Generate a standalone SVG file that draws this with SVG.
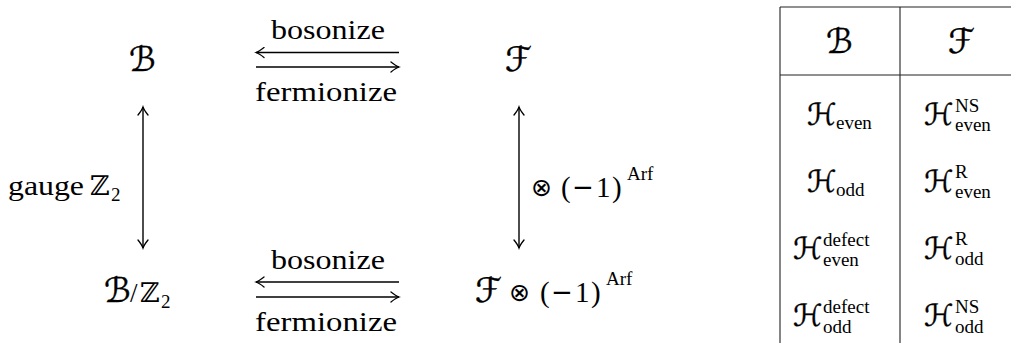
<svg xmlns="http://www.w3.org/2000/svg" width="1011" height="343" viewBox="0 0 1011 343">
<style>
.lbl{font-family:"Liberation Serif",serif;font-size:27px;fill:#000}
.pn{font-family:"Liberation Serif",serif;font-size:29px;fill:#000}
.mi{font-family:"DejaVu Sans",sans-serif;font-size:26px;fill:#000}
.sm{font-family:"Liberation Serif",serif;font-size:19px;fill:#000}
.cal{font-family:"DejaVu Sans",sans-serif;font-size:34px;fill:#000;stroke:#000;stroke-width:0.4}
.ch{font-family:"DejaVu Sans",sans-serif;font-size:30px;fill:#000;stroke:#000;stroke-width:0.4}
.dz{font-family:"DejaVu Serif",serif;font-size:27px;fill:#000}
.ot{font-family:"DejaVu Sans",sans-serif;font-size:25px;fill:#000}
.ln{stroke:#000;stroke-width:1.4;fill:none}
.tb{stroke:#222;stroke-width:1.1;fill:none}
</style>
<defs>
<marker id="ah" viewBox="-10 -6 12 12" refX="0" refY="0" markerWidth="12" markerHeight="12" markerUnits="userSpaceOnUse" orient="auto-start-reverse">
<path d="M-8,-5 Q-3,-1 0,0 Q-3,1 -8,5" stroke="#000" stroke-width="1.3" fill="none" stroke-linecap="round"/>
</marker>
</defs>
<g id="connectors">
<line class="ln" x1="256" y1="52.5" x2="399" y2="52.5" marker-start="url(#ah)"/>
<line class="ln" x1="256" y1="67" x2="399" y2="67" marker-end="url(#ah)"/>
<line class="ln" x1="256" y1="282" x2="399" y2="282" marker-start="url(#ah)"/>
<line class="ln" x1="256" y1="297" x2="399" y2="297" marker-end="url(#ah)"/>
<line class="ln" x1="143" y1="107" x2="143" y2="248" marker-start="url(#ah)" marker-end="url(#ah)"/>
<line class="ln" x1="519" y1="107" x2="519" y2="248" marker-start="url(#ah)" marker-end="url(#ah)"/>
<text class="lbl" x="271" y="39" textLength="114" lengthAdjust="spacingAndGlyphs">bosonize</text>
<text class="lbl" x="255" y="101" textLength="142" lengthAdjust="spacingAndGlyphs">fermionize</text>
<text class="lbl" x="271" y="269" textLength="114" lengthAdjust="spacingAndGlyphs">bosonize</text>
<text class="lbl" x="255" y="331" textLength="142" lengthAdjust="spacingAndGlyphs">fermionize</text>
<g id="label-gauge">
<text class="lbl" x="8" y="195" textLength="76" lengthAdjust="spacingAndGlyphs">gauge</text>
<text class="dz" x="90" y="195">ℤ</text>
<text class="sm" x="111" y="201">2</text>
</g>
<g id="label-arf">
<text class="ot" x="531" y="196">⊗</text>
<text class="pn" x="561" y="197">(</text>
<text class="mi" x="572" y="196">−</text>
<text class="pn" x="596" y="197">1</text>
<text class="pn" x="612" y="197">)</text>
<text class="sm" x="627" y="180">Arf</text>
</g>
</g>
<g id="node-B"><text class="cal" x="129" y="71">ℬ</text></g>
<g id="node-F"><text class="cal" x="505" y="71">ℱ</text></g>
<g id="node-BZ2">
<text class="cal" x="104" y="302">ℬ</text>
<text class="lbl" x="130" y="302" font-size="30">/</text>
<text class="dz" x="140" y="302">ℤ</text>
<text class="sm" x="161" y="308">2</text>
</g>
<g id="node-FArf">
<text class="cal" x="475" y="302">ℱ</text>
<text class="ot" x="509" y="301">⊗</text>
<text class="pn" x="540" y="302">(</text>
<text class="mi" x="551" y="301">−</text>
<text class="pn" x="575" y="302">1</text>
<text class="pn" x="591" y="302">)</text>
<text class="sm" x="606" y="285">Arf</text>
</g>
<g id="table" font-family="Liberation Serif" font-size="19">
<path class="tb" d="M780,7H1011M780,75H1011M780,7V343M900,7V343"/>
<text class="cal" x="826" y="53">ℬ</text>
<text class="cal" x="948" y="53">ℱ</text>
<text class="ch" x="807" y="125">ℋ</text><text x="836" y="129">even</text>
<text class="ch" x="924" y="125">ℋ</text><text x="955" y="112">NS</text><text x="955" y="131">even</text>
<text class="ch" x="807" y="192">ℋ</text><text x="836" y="196">odd</text>
<text class="ch" x="924" y="192">ℋ</text><text x="955" y="178">R</text><text x="955" y="198">even</text>
<text class="ch" x="793" y="259">ℋ</text><text x="823" y="246">defect</text><text x="823" y="266">even</text>
<text class="ch" x="924" y="259">ℋ</text><text x="955" y="245">R</text><text x="955" y="265">odd</text>
<text class="ch" x="793" y="326">ℋ</text><text x="823" y="313">defect</text><text x="823" y="333">odd</text>
<text class="ch" x="924" y="326">ℋ</text><text x="955" y="313">NS</text><text x="955" y="333">odd</text>
</g>
</svg>
